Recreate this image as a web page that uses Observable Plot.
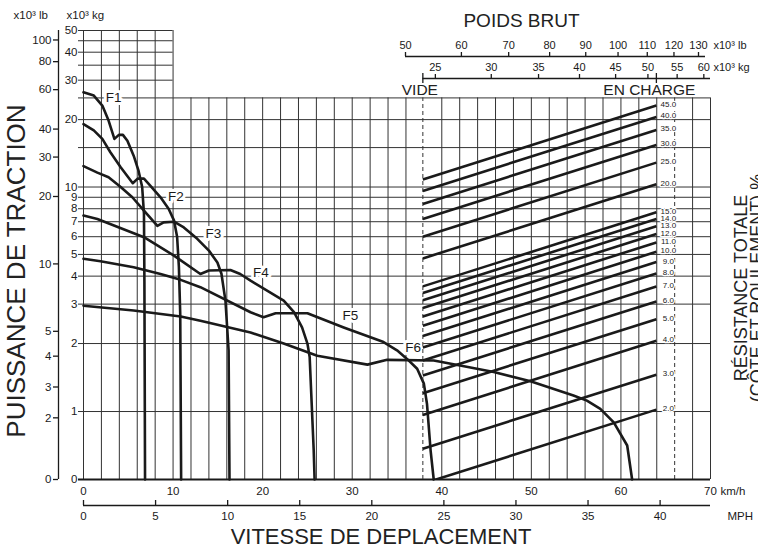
<!DOCTYPE html>
<html><head><meta charset="utf-8">
<script src="https://cdn.jsdelivr.net/npm/d3@7"></script>
<script src="https://cdn.jsdelivr.net/npm/@observablehq/plot@0.6"></script>
<style>
body{margin:0;background:#fff}
#wrap{position:relative;width:758px;height:548px;overflow:hidden}
#wrap svg{position:absolute;left:0;top:0}
</style></head><body><div id="wrap"></div>
<script>
// ---- tick labels / grid ----
const kmhTicks = [0,10,20,30,40,50,60,70];
const mphTicks = [0,5,10,15,20,25,30,35,40];
const kgTicks = [0,1,2,3,4,5,6,7,8,9,10,20,30,40,50];
const lbTicks = [0,2,3,4,5,10,20,30,40,60,80,100];
const kgGridMain = [1,2,3,4,5,6,7,8,9,10,15,20,25];
const kgGridUpper = [30,35,40,45,50];
const kmhGrid = [0,2,4,6,8,10,12,14,16,18,20,22,24,26,28,30,32,34,36,40,42,44,46,48,50,52,54,56,58,60,62,64,68,70];
const kmhUpperGrid = [0,2,4,6,8,10];
const kmhDashed = [66];
const weightLbTicks = [50,60,70,80,90,100,110,120,130];
const weightKgTicks = [25,30,35,40,45,50,55,60];
const emptyKg = 24.0;   // x10^3 kg, "VIDE"
const loadedKg = 51.4;  // x10^3 kg, "EN CHARGE"
const resistancePct = [2,3,4,5,6,7,8,9,10,11,12,13,14,15,20,25,30,35,40,45];

// ---- rimpull curves [km/h, x10^3 kg] ----
const F1 = [[0,26.5],[1.15,25.6],[2.1,23.1],[2.8,19.8],[3.45,16.4],[3.95,17.1],[4.4,17.1],[4.9,16.1],[5.6,13.8],[6.15,11.8],[6.55,10.0],[6.75,7.6],[6.8,3.8],[6.87,0]];
const F2 = [[0,19.1],[1.15,17.9],[2.1,16.4],[3.0,14.3],[4.15,12.25],[5.5,10.4],[6.05,10.9],[6.75,10.9],[7.5,10.1],[8.6,9.0],[9.5,8.0],[10.1,7.1],[10.45,6.0],[10.65,4.4],[10.8,2.7],[10.9,0]];
const F3 = [[0,12.4],[1.55,11.6],[2.8,11.05],[4.15,10.0],[5.45,9.0],[6.75,7.85],[8.25,6.7],[8.95,6.95],[10.1,7.0],[11.2,6.6],[12.7,5.87],[14.0,5.2],[14.95,4.6],[15.4,4.1],[15.85,3.1],[16.2,1.9],[16.3,0]];
const F4 = [[0,7.46],[1.55,7.2],[3.4,6.73],[6.75,5.97],[10.1,4.94],[13.05,4.09],[14.0,4.24],[16.4,4.26],[17.5,4.09],[18.65,3.82],[22.35,3.11],[23.5,2.76],[24.4,2.36],[25.0,2.0],[25.25,1.8],[25.7,0.43],[25.8,0]];
const F5 = [[0,4.78],[1.9,4.66],[5.6,4.38],[8.6,4.09],[10.85,3.85],[13.05,3.57],[18.65,2.76],[20.1,2.62],[21.45,2.73],[25.0,2.73],[29.05,2.36],[33.5,2.03],[35.0,1.9],[36.15,1.77],[37.25,1.63],[38.0,1.41],[38.35,1.11],[38.75,0.43],[39.1,0]];
const F6 = [[0,2.95],[5.6,2.81],[10.85,2.64],[13.05,2.53],[18.65,2.24],[22.35,2.0],[26.1,1.82],[31.7,1.69],[33.9,1.76],[39.1,1.75],[41.9,1.68],[45.8,1.58],[49.9,1.445],[54.7,1.235],[56.2,1.16],[57.7,1.04],[59.2,0.84],[60.7,0.5],[61.25,0]];
const gearNames = ["F1","F2","F3","F4","F5","F6"];
const gearLabelKmh = [3.35,10.3,14.5,19.8,29.8,36.8];
const gearLabelKg = [25.1,9.05,6.2,4.15,2.67,1.94];

// ---- scale helpers ----
const LB_PER_KG = 2.20462;
const KMH_PER_MPH = 1.609344;
const LOG_UNITS = 224/68; // chart units per decade above 2 (linear 0..2 below)
const yU = kg => kg <= 2 ? kg : 2 + LOG_UNITS*Math.log10(kg/2);
const U50 = yU(50), U25 = yU(25);

const FONT = "Liberation Sans, Arial, Helvetica, sans-serif";
const INK = "#1a1a1a";
const GRID = "#333";
const common = {
  width: 758, height: 548,
  marginLeft: 83, marginRight: 48, marginTop: 30, marginBottom: 69,
  y: {domain: [0, U50], axis: null},
};
const curves = [F1,F2,F3,F4,F5,F6];
const title = {textAnchor: "middle", lineAnchor: "middle", fill: "#222"};

const main = Plot.plot({
  ...common,
  style: {fontFamily: FONT, fontSize: "11.5px", color: INK, background: "white"},
  x: {domain: [0, 70], axis: null},
  marks: [
    Plot.ruleX(kmhGrid, {x: d => d, y1: 0, y2: U25, stroke: GRID, strokeWidth: 1}),
    Plot.ruleX(kmhUpperGrid, {x: d => d, y1: U25, y2: U50, stroke: GRID, strokeWidth: 1}),
    Plot.ruleX(kmhDashed, {x: d => d, y1: 0, y2: U25, stroke: GRID, strokeWidth: 1, strokeDasharray: "4,3"}),
    Plot.ruleY(kgGridMain, {y: d => yU(d), x1: 0, x2: 70, insetLeft: -5, stroke: GRID, strokeWidth: 1}),
    Plot.ruleY(kgGridUpper, {y: d => yU(d), x1: 0, x2: 10, insetLeft: -5, stroke: GRID, strokeWidth: 1}),
    Plot.ruleY([0], {y: d => d, x1: 0, x2: 70, insetLeft: -5, stroke: INK, strokeWidth: 1.8}),
    // left lb axis
    Plot.ruleX([0], {x: d => d, y1: 0, y2: U50, dx: -25, stroke: INK, strokeWidth: 1.3}),
    Plot.ruleY(lbTicks, {y: d => yU(d / LB_PER_KG), x1: 0, x2: 0, dx: -25, insetLeft: -5, stroke: INK, strokeWidth: 1.3}),
    Plot.text(lbTicks, {x: 0, y: d => yU(d / LB_PER_KG), text: d => String(d), dx: -32, textAnchor: "end", fontSize: 11.5}),
    Plot.text(kgTicks, {x: 0, y: d => yU(d), text: d => String(d), dx: -6, textAnchor: "end", fontSize: 11.5}),
    // km/h axis labels
    Plot.text(kmhTicks, {x: d => d, y: 0, dy: 12, text: d => String(d), fontSize: 11.5}),
    Plot.text(["km/h"], {x: 70, y: 0, dx: 10, dy: 12, text: d => d, textAnchor: "start", fontSize: 11.5}),
    // MPH axis
    Plot.ruleY([0], {y: d => d, x1: 0, x2: 70, dy: 26, stroke: INK, strokeWidth: 1.3}),
    Plot.ruleX(mphTicks, {x: d => d * KMH_PER_MPH, y1: 0, y2: 0, dy: 26, insetTop: -5, stroke: INK, strokeWidth: 1.3}),
    Plot.text(mphTicks, {x: d => d * KMH_PER_MPH, y: 0, dy: 37, text: d => String(d), fontSize: 11.5}),
    Plot.text(["MPH"], {x: 70, y: 0, dx: 17, dy: 37, text: d => d, textAnchor: "start", fontSize: 11.5}),
    // curves
    ...curves.map(c => Plot.line(c, {x: d => d[0], y: d => yU(d[1]), stroke: INK, strokeWidth: 2.6, strokeLinejoin: "round"})),
    Plot.text(gearNames, {x: (d, i) => gearLabelKmh[i], y: (d, i) => yU(gearLabelKg[i]), text: d => d,
      fontSize: 13.5, fill: INK, stroke: "white", strokeWidth: 6, paintOrder: "stroke"}),
    // titles
    Plot.text(["VITESSE DE DEPLACEMENT"], {frameAnchor: "bottom", text: d => d, dx: -16, dy: 57, fontSize: 22, ...title}),
    Plot.text(["PUISSANCE DE TRACTION"], {frameAnchor: "left", text: d => d, dx: -67, dy: 16, rotate: -90, fontSize: 26, ...title}),
    Plot.text(["RÉSISTANCE TOTALE"], {frameAnchor: "right", text: d => d, dx: 31, dy: 33, rotate: -90, fontSize: 18, ...title}),
    Plot.text(["(CÔTE ET ROULEMENT) %"], {frameAnchor: "right", text: d => d, dx: 47, dy: 33, rotate: -90, fontSize: 18, ...title}),
    Plot.text(["x10³ lb"], {frameAnchor: "top-left", text: d => d, dx: -70, dy: -15, textAnchor: "start", lineAnchor: "middle", fontSize: 11.5}),
    Plot.text(["x10³ kg"], {frameAnchor: "top-left", text: d => d, dx: -17, dy: -15, textAnchor: "start", lineAnchor: "middle", fontSize: 11.5})
  ]
});

const emptyLb = emptyKg * LB_PER_KG, loadedLb = loadedKg * LB_PER_KG;
const endU = p => yU(p / 100 * loadedKg);
const riseU = LOG_UNITS * Math.log10(loadedKg / emptyKg);

const overlay = Plot.plot({
  ...common,
  style: {fontFamily: FONT, fontSize: "11px", color: INK, background: "transparent"},
  x: {type: "log", domain: [50, 130], range: [405, 698], axis: null},
  marks: [
    Plot.text(["POIDS BRUT"], {frameAnchor: "top-left", text: d => d, dx: 438, dy: -10, fontSize: 19, ...title}),
    // lb weight axis
    Plot.ruleY([U50], {y: d => d, x1: 50, x2: 130, dy: 26, insetRight: -7, stroke: INK, strokeWidth: 1.3}),
    Plot.ruleX(weightLbTicks, {x: d => d, y1: U50, y2: U50, dy: 26, insetTop: -4, stroke: INK, strokeWidth: 1.3}),
    Plot.text(weightLbTicks, {x: d => d, y: U50, dy: 15, text: d => String(d), fontSize: 11}),
    Plot.text(["x10³ lb"], {x: 130, y: U50, dx: 15, dy: 15, text: d => d, textAnchor: "start", fontSize: 11}),
    // kg weight axis
    Plot.ruleY([U50], {y: d => d, x1: emptyLb, x2: 130, dy: 48, insetRight: -12, stroke: INK, strokeWidth: 1.3}),
    Plot.ruleX(weightKgTicks, {x: d => d * LB_PER_KG, y1: U50, y2: U50, dy: 48, insetTop: -4, stroke: INK, strokeWidth: 1.3}),
    Plot.ruleX([emptyLb, loadedLb], {x: d => d, y1: U50, y2: U50, dy: 48, insetTop: -5, insetBottom: -5, stroke: INK, strokeWidth: 1.3}),
    Plot.text(weightKgTicks, {x: d => d * LB_PER_KG, y: U50, dy: 37, text: d => String(d), fontSize: 11}),
    Plot.text(["x10³ kg"], {x: 130, y: U50, dx: 15, dy: 37, text: d => d, textAnchor: "start", fontSize: 11}),
    Plot.text(["VIDE"], {x: emptyLb, y: U25, dx: -3, dy: -8, text: d => d, fontSize: 15.5, fill: "#222"}),
    Plot.text(["EN CHARGE"], {x: loadedLb, y: U25, dx: -7, dy: -8, text: d => d, fontSize: 15.5, fill: "#222"}),
    Plot.ruleX([emptyLb], {x: d => d, y1: 0, y2: U25, stroke: GRID, strokeWidth: 1, strokeDasharray: "4,3"}),
    // total resistance lines
    Plot.link(resistancePct, {x1: emptyLb, y1: p => endU(p) - riseU, x2: loadedLb, y2: p => endU(p),
      stroke: INK, strokeWidth: 2.6, clip: true}),
    Plot.text(resistancePct, {x: loadedLb, y: p => endU(p), dx: 12, dy: -1, text: p => p.toFixed(1),
      fontSize: 8, fill: INK, stroke: "white", strokeWidth: 2.5, paintOrder: "stroke"})
  ]
});

const wrap = document.getElementById("wrap");
wrap.appendChild(main);
wrap.appendChild(overlay);
</script>
</body></html>
